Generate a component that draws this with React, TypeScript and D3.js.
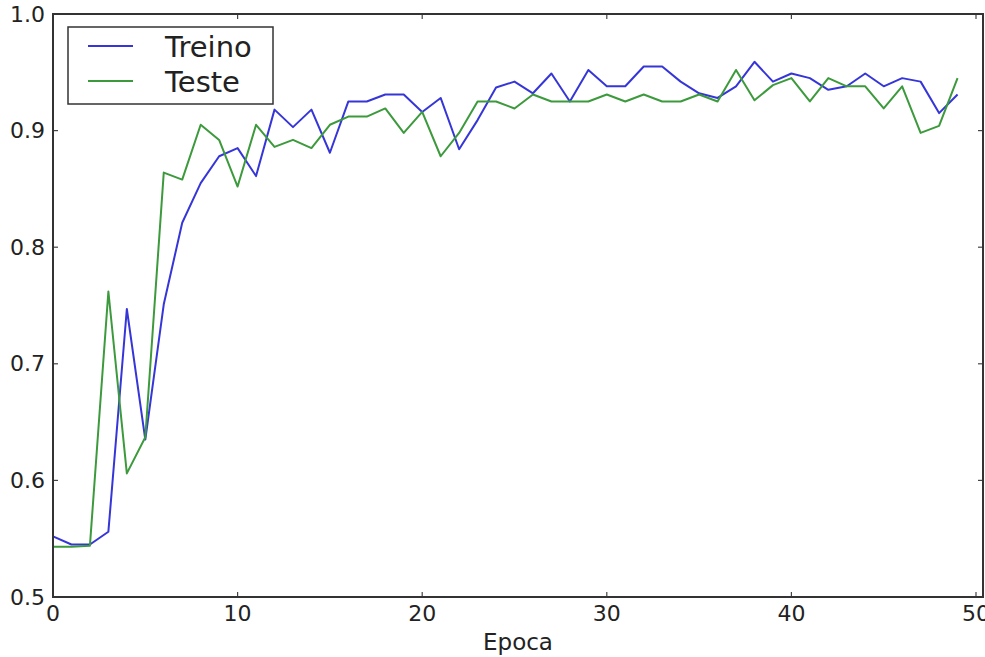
import React from 'react';
import * as d3 from 'd3';

// accuracy per epoch
const epochs = d3.range(0, 50);
const treino = [
  0.552, 0.545, 0.545, 0.556, 0.747, 0.635, 0.751, 0.821, 0.855, 0.878,
  0.885, 0.861, 0.918, 0.903, 0.918, 0.881, 0.925, 0.925, 0.931, 0.931,
  0.916, 0.928, 0.884, 0.909, 0.937, 0.942, 0.932, 0.949, 0.925, 0.952,
  0.938, 0.938, 0.955, 0.955, 0.942, 0.932, 0.928, 0.938, 0.959, 0.942,
  0.949, 0.945, 0.935, 0.938, 0.949, 0.938, 0.945, 0.942, 0.915, 0.931,
];
const teste = [
  0.543, 0.543, 0.544, 0.762, 0.606, 0.637, 0.864, 0.858, 0.905, 0.892,
  0.852, 0.905, 0.886, 0.892, 0.885, 0.905, 0.912, 0.912, 0.919, 0.898,
  0.916, 0.878, 0.898, 0.925, 0.925, 0.919, 0.931, 0.925, 0.925, 0.925,
  0.931, 0.925, 0.931, 0.925, 0.925, 0.931, 0.925, 0.952, 0.926, 0.939,
  0.945, 0.925, 0.945, 0.938, 0.938, 0.919, 0.938, 0.898, 0.904, 0.945,
];
const xTicks = [0, 10, 20, 30, 40, 50];
const yTicks = [0.5, 0.6, 0.7, 0.8, 0.9, 1.0];
const seriesNames = ['Treino', 'Teste'];
const seriesColors = ['#3636d8', '#3c9a3c'];

const W = 985;
const H = 657;
const left = 53;
const right = 976; // where x = 50 falls
const frameRight = 983;
const top = 14;
const bottom = 597;

export default function App() {
  const x = d3.scaleLinear().domain([0, 50]).range([left, right]);
  const y = d3.scaleLinear().domain([0.5, 1.0]).range([bottom, top]);

  const line = d3
    .line<number>()
    .x((_, i) => x(epochs[i]))
    .y((d) => y(d));

  const series = [treino, teste];
  const font = '"DejaVu Sans", sans-serif';
  const tickLen = 5;

  return (
    <svg
      width={W}
      height={H}
      style={{ position: 'absolute', left: 0, top: 0, background: '#fff' }}
    >
      <g>
        {series.map((s, k) => (
          <path
            key={k}
            d={line(s) || ''}
            fill="none"
            stroke={seriesColors[k]}
            strokeWidth={2}
            strokeLinejoin="round"
          />
        ))}
      </g>

      {/* ticks, inside, on all four sides */}
      <g stroke="#444" strokeWidth={1.2}>
        {xTicks.map((t) => (
          <g key={'x' + t}>
            <line x1={x(t)} x2={x(t)} y1={bottom} y2={bottom - tickLen} />
            <line x1={x(t)} x2={x(t)} y1={top} y2={top + tickLen} />
          </g>
        ))}
        {yTicks.map((t) => (
          <g key={'y' + t}>
            <line x1={left} x2={left + tickLen} y1={y(t)} y2={y(t)} />
            <line x1={frameRight} x2={frameRight - tickLen} y1={y(t)} y2={y(t)} />
          </g>
        ))}
      </g>

      <rect
        x={left}
        y={top}
        width={frameRight - left}
        height={bottom - top}
        fill="none"
        stroke="#333"
        strokeWidth={2}
      />

      <g fontFamily={font} fontSize={22} fill="#222">
        {xTicks.map((t) => (
          <text key={t} x={x(t)} y={bottom + 24} textAnchor="middle">
            {t}
          </text>
        ))}
        {yTicks.map((t) => (
          <text
            key={t}
            x={left - 8}
            y={y(t)}
            textAnchor="end"
            dominantBaseline="central"
          >
            {t.toFixed(1)}
          </text>
        ))}
        <text x={518} y={650} textAnchor="middle" fontSize={23}>
          Epoca
        </text>
      </g>

      {/* legend */}
      <g>
        <rect
          x={68}
          y={27}
          width={205}
          height={77}
          fill="#fff"
          stroke="#333"
          strokeWidth={1.5}
        />
        {seriesNames.map((name, k) => (
          <g key={name} transform={`translate(0, ${46 + k * 35})`}>
            <line x1={88} x2={133} y1={0} y2={0} stroke={seriesColors[k]} strokeWidth={2} />
            <text
              x={165}
              y={1}
              fontFamily={font}
              fontSize={29}
              fill="#222"
              dominantBaseline="central"
            >
              {name}
            </text>
          </g>
        ))}
      </g>
    </svg>
  );
}
